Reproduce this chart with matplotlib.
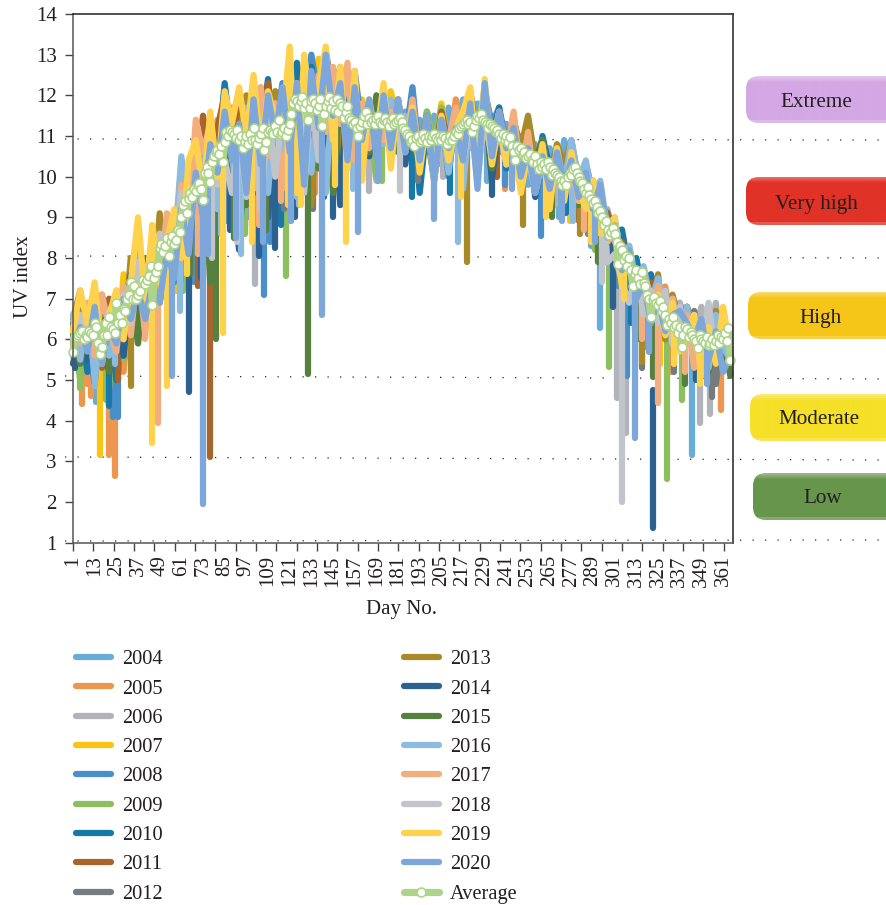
import numpy as np
import matplotlib
matplotlib.use("Agg")
import matplotlib.pyplot as plt
from matplotlib.colors import to_rgb
from matplotlib.patches import FancyBboxPatch

plt.rcParams['font.family'] = ['Liberation Serif', 'DejaVu Serif']
TEXT = '#231f20'

grid_days = list(range(1, 366, 4))

y2004 = [6.3,6.8,5.9,6.4,4.7,6.9,5.4,6.7,6.1,7.2,6.4,7.5,6.9,7.9,8.0,7.7,9.1,8.6,10.2,9.5,10.8,11.2,10.6,
         11.4,9.9,11.6,10.8,11.9,10.5,11.2,12.4,10.9,12.2,11.5,10.8,12.3,11.0,12.1,10.6,12.0,11.3,10.9,11.7,11.2,11.9,10.7,
         11.6,10.5,11.4,10.9,11.5,10.3,11.7,11.1,11.9,10.7,11.8,10.9,11.4,10.6,11.3,10.2,11.0,9.8,10.8,10.3,10.7,9.6,10.9,
         10.2,9.8,10.1,9.3,9.6,8.7,8.9,8.2,8.1,7.6,7.5,7.0,6.9,6.3,7.0,6.2,6.7,5.6,6.5,5.7,6.6,5.4,6.2]
y2005 = [5.9,6.6,4.9,5.6,6.5,4.6,6.8,5.2,7.1,6.0,7.6,6.5,8.2,7.1,8.5,7.9,9.4,8.8,10.6,9.7,11.4,10.2,11.7,
         10.3,11.5,9.8,12.1,10.6,11.3,12.0,10.4,12.3,11.1,12.5,10.7,12.1,11.6,12.4,10.9,11.8,10.9,11.6,10.6,11.9,11.2,11.4,
         10.8,11.5,10.6,11.3,10.7,11.6,10.4,11.9,11.0,12.0,10.5,11.9,11.2,11.5,10.4,11.3,10.7,10.9,9.9,10.7,10.1,10.3,9.8,
         10.5,9.6,10.0,9.1,9.4,8.5,8.8,8.4,7.6,7.9,7.1,7.4,6.6,7.3,6.1,6.9,6.3,6.6,5.5,6.4,5.6,6.5,5.3]
y2006 = [6.1,5.6,6.7,5.3,6.8,5.8,7.2,6.2,7.4,5.9,7.9,7.0,8.4,7.4,8.9,8.2,9.3,9.9,9.1,10.6,9.6,11.5,10.3,
         11.1,9.7,12.0,10.2,11.3,9.9,11.7,10.4,12.6,11.2,12.2,10.8,12.4,11.6,11.8,10.6,12.1,10.8,11.2,9.9,11.5,10.5,11.3,11.0,
         11.4,10.9,11.2,10.5,11.3,10.8,11.4,10.3,11.6,10.8,11.7,10.6,11.2,10.7,10.9,10.4,10.8,9.9,10.5,10.0,10.6,9.4,
         10.3,9.9,9.5,9.7,8.7,9.2,8.3,8.5,7.7,7.9,6.9,7.6,7.0,7.2,6.4,6.9,6.4,6.1,6.8,5.6,6.9,5.2,5.9]
y2007 = [6.6,6.9,5.5,7.3,6.0,6.6,5.2,7.6,6.2,6.9,7.9,7.2,8.3,7.7,8.0,9.2,8.5,10.0,9.4,10.9,10.0,11.6,11.2,
         10.6,11.9,10.3,12.2,11.0,12.1,10.7,12.6,11.4,12.7,10.9,12.9,11.5,12.3,11.1,12.4,10.7,11.9,11.0,11.7,10.9,12.1,11.3,
         10.9,11.6,10.6,11.5,10.4,11.8,10.7,11.5,11.1,12.0,11.0,12.2,11.0,11.6,10.5,11.3,10.2,10.7,10.0,10.6,9.8,10.5,10.0,
         10.4,9.3,10.2,9.4,9.7,8.6,8.8,8.1,8.3,7.4,7.4,7.0,7.2,6.4,6.8,6.0,6.3,6.6,5.6,6.3,5.4,6.1,5.6]
y2008 = [5.7,6.8,6.1,4.9,6.9,5.7,4.5,7.2,5.9,7.7,6.8,8.1,6.9,8.6,7.4,9.6,8.5,10.1,9.2,11.0,9.9,12.2,10.9,
         11.8,10.4,11.5,9.9,12.1,11.2,12.3,10.6,12.7,11.7,13.0,11.9,13.1,12.0,12.4,10.8,12.6,11.2,11.8,10.6,12.0,11.0,11.9,10.9,
         12.2,10.4,11.6,10.7,11.5,10.0,11.6,10.9,12.0,10.3,12.1,11.3,11.7,10.8,11.4,10.6,11.0,10.0,10.8,10.2,10.7,9.7,
         10.6,9.7,10.3,9.6,9.3,8.8,8.5,7.9,8.2,7.2,7.6,6.9,7.3,6.3,6.9,5.9,6.6,5.7,6.4,6.0,5.5,6.3,5.4]
y2009 = [6.2,5.0,6.5,5.7,6.8,4.8,6.4,5.5,7.0,6.3,7.5,6.7,7.8,7.3,8.7,8.2,9.4,8.9,10.4,9.6,10.7,11.3,9.9,
         11.3,9.6,11.9,10.6,11.4,9.8,12.1,10.9,12.3,11.1,12.0,10.7,12.4,11.8,11.6,10.3,11.9,10.9,11.3,10.0,11.7,11.0,11.6,10.8,
         11.4,10.4,11.6,10.9,11.7,10.6,11.5,10.4,12.0,10.8,12.2,11.0,11.5,10.4,11.4,10.2,10.9,10.3,10.8,9.7,10.4,10.1,
         10.3,9.6,10.0,9.1,9.7,8.4,8.7,7.8,8.1,7.5,7.3,6.8,7.2,6.7,6.6,6.2,6.6,5.8,6.2,5.5,6.4,5.9,5.7]
y2010 = [5.6,6.4,5.2,6.7,5.9,6.9,5.0,7.0,6.0,7.6,6.9,7.9,7.1,8.9,8.0,9.7,8.7,10.6,9.4,11.2,10.4,12.3,10.8,
         11.4,10.5,12.1,11.0,12.4,10.3,12.0,11.2,12.8,11.6,12.7,10.9,12.9,11.5,12.5,11.0,12.2,11.1,11.8,10.7,12.0,11.3,11.9,10.6,
         11.8,9.6,11.3,10.4,11.5,10.1,11.6,10.5,11.9,10.3,12.1,10.9,11.7,10.2,11.4,10.5,10.8,9.9,11.0,10.2,10.5,9.7,
         10.8,9.8,10.2,9.4,9.3,9.1,8.6,8.7,7.7,8.0,7.0,7.6,6.8,7.1,6.3,6.6,6.0,6.5,5.6,6.2,5.8,5.9,5.6]
y2011 = [6.0,6.7,5.6,6.4,5.3,7.0,5.9,6.9,6.4,7.4,7.1,8.1,7.0,8.3,7.8,9.0,8.9,9.9,11.5,10.4,11.2,12.0,10.7,
         11.7,10.1,12.2,10.8,12.3,10.5,11.5,12.2,10.9,12.0,11.3,12.4,11.0,12.6,11.2,12.4,10.6,11.7,10.8,11.6,10.9,11.2,11.7,10.8,
         11.5,10.7,11.2,10.3,11.6,10.8,11.3,10.6,11.9,11.1,11.8,10.7,11.6,10.7,11.5,10.1,11.2,10.2,10.6,10.0,10.4,9.5,
         10.5,9.9,9.6,9.9,9.0,9.1,8.4,8.4,7.8,7.7,7.3,7.4,6.5,7.2,6.4,6.4,6.8,5.9,6.3,5.7,6.3,5.4,6.0]
y2012 = [6.4,5.8,6.7,5.9,7.1,6.2,6.5,5.6,7.7,6.6,8.0,7.2,8.5,7.9,8.8,8.4,9.2,10.0,9.0,10.7,9.8,10.9,10.1,
         11.2,9.8,11.7,10.0,11.9,10.6,11.6,9.3,12.1,10.4,11.7,10.9,9.8,12.3,11.5,11.9,10.5,11.6,10.8,11.9,11.1,11.5,10.7,11.2,
         11.1,10.5,11.3,10.3,11.4,10.9,11.3,10.6,11.7,10.5,11.4,10.9,11.2,10.6,11.0,10.3,10.7,9.9,10.4,9.8,10.2,9.6,
         10.1,9.4,9.8,9.0,9.2,8.6,8.2,7.9,7.9,7.2,7.6,6.9,7.3,6.5,6.9,6.4,6.2,6.7,5.6,6.5,4.9,6.2,5.7]
y2013 = [6.5,7.2,5.7,6.9,5.4,6.4,6.9,5.9,8.0,6.4,7.7,6.8,9.1,7.5,9.0,8.4,9.6,10.6,9.7,10.9,9.9,11.6,10.6,
         11.0,12.0,10.3,11.5,10.5,12.1,11.0,12.4,10.8,11.8,9.3,12.2,11.4,12.0,12.7,11.0,11.6,10.4,11.8,10.9,11.4,10.8,11.5,10.6,
         11.7,10.7,11.5,10.2,11.1,10.5,11.4,10.9,12.1,11.0,11.8,9.9,11.6,10.6,11.4,10.7,11.5,10.4,10.9,9.8,10.8,10.3,
         10.9,9.9,10.2,9.3,9.6,8.8,8.9,7.9,8.1,7.0,7.4,6.6,7.6,6.0,7.1,6.4,6.8,6.3,6.5,5.9,6.7,5.6,6.1]
y2014 = [5.4,6.2,5.5,6.9,6.1,5.2,6.6,5.6,7.6,6.6,7.2,8.2,7.0,8.6,7.9,9.2,8.0,10.2,8.8,11.1,10.0,11.8,9.7,
         8.2,11.4,9.6,11.6,9.0,11.4,10.4,12.2,9.9,11.9,10.9,12.3,10.5,11.9,9.3,12.2,10.2,11.6,10.5,11.8,10.9,11.3,11.6,10.3,
         11.5,10.2,11.3,10.6,11.0,10.4,11.3,10.0,11.6,10.7,11.9,9.9,11.4,10.5,11.2,9.8,10.8,9.5,10.6,9.7,10.4,9.4,
         10.4,9.4,10.1,9.3,9.5,8.7,8.5,7.7,8.0,7.0,7.6,6.4,7.2,6.6,6.7,6.1,6.6,5.8,6.0,5.4,6.4,5.5,5.2]
y2015 = [6.1,5.4,6.3,5.8,6.9,5.2,7.1,6.6,7.4,5.9,8.0,7.0,8.4,7.2,9.0,8.0,9.4,8.8,10.7,7.4,10.4,11.6,10.2,
         10.9,9.3,11.2,10.1,12.0,10.7,11.4,9.8,12.1,11.3,11.6,10.2,12.3,9.6,12.0,10.8,11.9,11.0,10.6,12.0,11.2,11.6,10.6,11.3,
         10.9,10.3,11.1,9.9,11.4,10.7,11.2,10.5,11.4,10.2,11.6,10.2,11.3,10.5,11.0,10.0,10.8,10.4,10.9,9.6,10.2,9.9,
         10.4,9.3,9.9,9.0,9.6,8.4,8.8,7.6,7.6,7.3,6.9,7.0,6.4,6.9,6.2,6.1,6.8,5.5,6.4,5.2,5.9,6.1,5.1]
y2016 = [6.6,5.5,6.9,5.0,6.3,5.6,7.0,6.1,7.3,8.5,7.2,8.5,7.6,9.0,8.1,10.5,9.0,11.0,10.1,10.8,9.2,11.2,10.6,
         8.9,11.7,10.0,12.0,9.6,11.8,10.2,11.7,9.5,12.1,10.1,11.9,9.6,12.2,11.3,11.6,10.7,11.7,11.0,11.5,10.8,11.9,11.1,11.5,
         11.3,10.6,11.0,10.5,11.3,10.1,11.5,9.7,11.6,10.2,12.0,10.6,11.5,10.8,11.1,9.9,10.6,10.1,10.4,9.5,10.7,9.8,
         10.9,9.9,10.4,9.4,9.9,8.7,9.0,7.8,8.3,7.4,7.8,6.9,7.5,6.6,7.0,6.0,6.8,5.6,6.3,5.3,6.6,5.8,5.5]
y2017 = [6.3,5.9,6.9,5.6,7.1,6.3,5.7,7.3,6.1,7.8,6.1,8.3,7.2,9.1,7.7,9.8,8.8,11.4,10.6,11.3,10.0,11.7,11.0,
         10.2,11.4,9.7,12.2,10.5,11.8,9.7,11.5,9.9,12.4,11.2,12.5,11.1,12.7,11.3,12.8,10.4,11.8,10.7,11.4,10.9,11.6,11.0,10.7,
         11.9,10.4,11.4,10.1,11.2,10.9,11.7,10.5,11.9,10.4,12.1,10.8,11.6,10.5,11.6,10.0,11.1,9.7,10.7,9.9,10.6,9.5,
         10.3,9.4,10.0,9.2,9.3,8.4,8.6,7.6,7.9,7.1,7.6,6.5,7.3,6.3,7.0,5.9,6.6,5.3,6.5,5.5,6.0,6.4,5.7]
y2018 = [6.0,6.6,5.8,7.0,5.5,6.7,6.2,7.1,6.4,7.9,7.1,7.6,8.6,7.3,8.3,9.6,8.7,10.0,9.3,10.3,9.8,10.4,9.6,
         11.0,9.5,11.3,9.2,11.6,10.0,11.7,10.5,12.3,9.6,12.1,10.4,12.8,11.4,12.4,10.9,11.3,10.2,11.7,11.2,11.5,10.9,11.2,10.7,
         11.1,10.4,11.4,10.1,11.1,10.7,11.2,10.4,11.4,9.9,11.5,10.4,11.2,10.3,10.9,10.2,10.5,9.6,10.4,9.9,10.2,9.6,
         10.2,9.8,9.7,9.0,9.4,7.9,8.1,7.4,6.9,7.7,6.6,7.2,6.4,7.2,5.9,6.8,6.0,6.6,5.7,6.9,5.5,6.3,5.7]
y2019 = [6.2,7.2,6.4,7.4,5.4,6.6,7.2,6.0,7.4,9.0,7.0,8.8,7.4,8.4,9.2,8.0,10.4,10.9,9.6,11.6,10.0,12.1,11.3,
         12.2,11.0,12.5,10.6,12.1,11.4,11.3,13.2,9.6,13.0,11.6,12.2,13.2,10.9,12.7,10.2,12.6,9.9,11.9,10.9,12.3,10.2,11.9,10.6,
         11.7,10.1,11.4,9.9,11.5,10.4,11.2,11.6,12.2,10.1,12.4,10.3,11.4,10.3,10.9,9.6,10.6,9.9,10.8,9.2,10.7,9.4,
         10.6,9.7,9.2,9.9,8.6,8.7,9.0,7.3,8.2,7.0,7.4,6.6,7.1,6.1,6.9,5.7,6.1,6.6,5.1,6.3,5.4,6.8,5.8]
y2020 = [5.8,6.3,5.7,6.8,5.4,6.3,5.9,7.0,6.5,7.2,6.5,7.4,6.9,8.2,7.5,9.3,8.1,10.1,9.0,10.8,10.1,11.6,10.4,
         11.3,9.6,11.9,10.3,12.0,11.0,12.2,10.6,12.3,9.8,12.6,11.2,13.0,11.5,12.3,10.4,12.2,10.9,11.9,10.5,12.0,10.7,11.9,10.6,
         11.6,10.4,11.5,9.9,11.4,10.7,11.2,10.4,11.8,9.7,12.3,10.5,11.6,10.7,11.2,10.0,10.7,9.6,10.5,9.7,10.6,9.8,
         10.4,9.5,10.1,9.2,9.8,8.5,8.8,7.7,8.2,7.0,7.4,6.4,7.0,6.2,6.6,6.7,6.4,6.0,6.5,5.5,6.2,5.2,5.6]

# (day, lowest value of the drop)
dips_2004 = [(14, 4.45), (62, 7.6), (98, 9.0), (120, 9.4), (150, 10.2), (230, 9.9), (270, 9.0), (288, 8.3), (293, 6.27), (318, 5.8), (344, 3.15)]
dips_2005 = [(6, 4.4), (11, 4.6), (21, 3.15), (24, 2.65), (66, 8.2), (92, 9.2), (112, 9.3), (135, 9.6), (240, 9.7), (280, 9.0), (300, 7.5), (332, 5.2), (360, 4.26)]
dips_2006 = [(70, 8.4), (90, 8.8), (102, 7.35), (128, 9.8), (165, 9.65), (206, 10.0), (268, 9.3), (296, 7.9), (302, 4.55), (307, 3.7), (348, 3.95), (354, 4.16)]
dips_2007 = [(16, 3.15), (58, 7.2), (88, 9.4), (122, 8.9), (170, 10.3), (276, 8.9), (326, 5.4)]
dips_2008 = [(23, 4.1), (26, 4.1), (68, 7.4), (86, 8.9), (107, 7.1), (110, 8.4), (240, 9.8), (260, 8.55), (286, 8.6), (303, 7.3), (308, 5.1)]
dips_2009 = [(5, 4.8), (19, 4.5), (62, 7.2), (96, 8.6), (119, 7.55), (132, 10.0), (172, 9.9), (244, 9.9), (290, 8.2), (298, 5.32), (330, 2.57), (338, 4.5)]
dips_2010 = [(21, 4.35), (60, 7.4), (116, 8.8), (140, 9.5), (189, 9.5), (210, 9.6), (274, 9.1), (310, 6.4)]
dips_2011 = [(26, 5.0), (70, 7.3), (77, 3.1), (100, 8.8), (146, 10.0), (236, 10.0), (281, 8.9)]
dips_2012 = [(64, 7.8), (118, 9.2), (134, 9.2), (192, 9.9), (272, 9.4), (316, 5.3), (334, 5.2), (355, 4.58)]
dips_2013 = [(33, 4.85), (74, 7.9), (126, 9.4), (148, 10.1), (219, 7.9), (250, 8.8), (282, 8.6), (304, 7.4), (316, 5.44)]
dips_2014 = [(2, 5.3), (65, 4.7), (72, 7.5), (88, 8.7), (104, 8.05), (113, 8.25), (124, 9.0), (145, 9.0), (233, 9.55), (300, 6.8), (346, 5.0)]
dips_2015 = [(66, 7.6), (80, 6.0), (90, 8.5), (108, 8.7), (131, 5.15), (266, 9.0), (292, 7.9), (314, 6.0), (322, 5.08), (340, 4.9)]
dips_2016 = [(13, 4.85), (24, 5.4), (60, 6.7), (83, 8.6), (94, 8.1), (126, 9.3), (156, 9.7), (214, 8.4), (278, 8.9)]
dips_2017 = [(41, 6.0), (48, 3.95), (70, 8.1), (104, 8.8), (116, 9.4), (284, 8.7), (316, 6.0), (325, 4.43), (340, 5.2)]
dips_2018 = [(78, 8.0), (92, 8.4), (128, 9.6), (182, 9.65), (294, 7.4), (305, 2.0), (312, 6.2)]
dips_2019 = [(45, 3.45), (53, 4.85), (64, 7.6), (84, 6.15), (100, 8.4), (120, 9.3), (127, 9.3), (146, 9.8), (152, 8.4), (216, 9.5), (263, 9.0), (288, 8.4), (306, 7.0), (334, 5.4), (348, 4.9)]
dips_2020 = [(56, 5.1), (73, 1.95), (76, 8.1), (91, 8.5), (106, 8.4), (122, 8.9), (139, 6.6), (159, 8.65), (170, 9.9), (201, 8.95), (244, 9.7), (272, 8.9), (290, 8.4), (312, 3.57), (320, 5.7), (352, 4.9)]

# 2014 has a short piece standing alone near day 322
alone_day_2014 = [322, 322]
alone_val_2014 = [4.75, 1.35]

avg_values = [5.68,6.05,6.05,6.1,6.15,6.2,6.0,6.1,6.05,6.2,6.15,6.1,6.4,6.3,5.9,5.65,5.8,6.1,6.4,6.1,
    6.55,6.3,6.25,6.15,6.9,6.4,6.6,6.4,6.75,6.7,7.0,7.1,7.4,7.0,7.3,7.0,7.1,7.2,7.4,7.45,
    7.35,7.45,7.55,7.8,6.85,7.5,7.65,7.8,8.25,8.35,8.15,8.3,8.5,8.05,8.4,8.55,8.35,8.45,8.7,8.65,
    9.0,9.3,9.4,9.1,9.45,9.6,9.5,9.7,9.65,9.8,9.85,9.7,9.42,10.1,10.25,10.1,9.87,10.35,10.5,10.6,
    10.65,10.55,10.75,10.35,10.85,11.1,11.0,11.15,11.1,11.05,10.95,11.15,10.9,11.0,10.7,10.85,11.0,10.8,11.05,10.9,
    11.2,10.9,10.8,10.95,11.05,11.2,10.65,10.85,11.1,11.15,11.1,11.05,11.25,11.1,11.4,11.05,11.1,11.2,11.0,11.15,
    11.3,11.55,11.8,11.9,11.85,11.75,11.85,11.95,11.7,11.8,11.4,11.7,11.85,11.9,11.8,11.65,11.75,11.9,11.25,11.55,
    11.75,11.85,11.95,11.7,11.85,11.65,11.9,11.6,11.8,11.75,11.45,11.6,11.75,11.45,11.4,11.3,11.35,11.2,11.0,11.25,
    11.35,11.5,11.6,11.3,11.45,11.35,11.4,11.3,11.45,11.5,11.35,11.3,11.4,11.45,11.35,11.25,11.4,11.45,11.3,11.35,
    11.4,11.45,11.35,11.2,11.15,11.05,11.0,10.85,10.9,10.75,10.95,11.0,10.85,10.9,11.05,10.95,10.85,11.0,10.9,11.0,
    11.05,10.95,10.9,11.0,10.9,11.0,10.95,10.8,10.9,11.0,10.9,11.0,11.1,11.05,11.2,11.25,11.3,11.35,11.4,11.3,
    11.35,11.1,11.25,11.4,11.5,11.45,11.55,11.4,11.35,11.3,11.2,11.3,11.25,11.2,11.1,11.15,11.05,10.95,11.05,10.9,
    11.0,10.85,10.97,10.75,10.6,10.4,10.75,10.65,10.7,10.55,10.6,10.45,10.5,10.55,10.4,10.35,10.5,10.3,10.2,10.35,
    10.25,10.3,10.2,10.35,10.25,10.05,10.2,10.1,10.05,10.0,9.9,9.8,9.9,9.8,10.0,10.1,10.05,10.2,10.25,10.1,
    10.0,9.9,9.85,9.7,9.6,9.75,9.55,9.45,9.35,9.4,9.25,9.1,9.15,9.0,8.8,8.9,8.7,8.56,8.65,8.75,
    8.6,8.4,7.85,8.3,8.2,7.95,8.05,7.8,8.0,7.7,7.3,7.6,7.7,7.5,7.35,7.65,7.38,7.3,7.1,7.0,
    6.55,7.0,7.05,6.9,6.85,6.95,6.7,6.8,6.6,6.35,6.5,6.4,6.55,6.3,6.35,6.15,6.3,5.8,6.1,6.3,
    6.25,6.05,6.17,6.1,6.0,5.95,5.78,6.1,6.0,5.95,5.9,6.05,5.85,5.9,6.0,5.85,5.95,6.1,5.9,6.05,
    6.0,6.15,5.95,6.27,5.5]

years = [2004, 2005, 2006, 2007, 2008, 2009, 2010, 2011, 2012, 2013, 2014, 2015, 2016, 2017, 2018, 2019, 2020]
year_values = [y2004, y2005, y2006, y2007, y2008, y2009, y2010, y2011, y2012, y2013, y2014, y2015, y2016, y2017, y2018, y2019, y2020]
year_dips = [dips_2004, dips_2005, dips_2006, dips_2007, dips_2008, dips_2009, dips_2010, dips_2011, dips_2012,
             dips_2013, dips_2014, dips_2015, dips_2016, dips_2017, dips_2018, dips_2019, dips_2020]
year_colors = ['#68acd9', '#ed9650', '#b1b3ba', '#f9c412', '#4a8fc9', '#8cbf5e', '#1878a8', '#a9642b', '#767b80',
               '#a88a28', '#2c6291', '#56803f', '#8cbbe1', '#f3ae7e', '#c2c4cc', '#ffd24e', '#7da7da']
avg_color = '#aed48a'

level_names = ['Extreme', 'Very high', 'High', 'Moderate', 'Low']
level_colors = ['#d3a8e4', '#e03226', '#f5c518', '#f6e028', '#67954c']
level_boxes = [(746, 76, 123), (746, 177, 225), (748, 292, 339), (750, 394, 441), (753, 473, 520)]
level_text_x = [816, 816, 821, 819, 823]
level_text_y = [102.5, 204.5, 318.5, 419.5, 498.5]
dotted_left = [139, 256, 376, 457, 541]
dotted_right = [140, 258, 379, 460, 540]

W, H = 886, 905
fig = plt.figure(figsize=(W / 100, H / 100), dpi=100)

# pixel layer behind the chart for dotted bands and the level buttons
back = fig.add_axes([0, 0, 1, 1], zorder=0)
for yl, yr in zip(dotted_left, dotted_right):
    back.plot([65, 886], [yl, yr], color='#222222', lw=0.9, dashes=(1.0, 9.0))
for name, col, (x0, y0, y1), tx, ty in zip(level_names, level_colors, level_boxes, level_text_x, level_text_y):
    n = y1 - y0
    base = np.array(to_rgb(col))
    shade = np.ones((n, 1, 3)) * base
    for i in range(6):
        shade[i] = base + (1 - base) * 0.35 * (1 - i / 6)
    shade[-3:] = base + (1 - base) * 0.2
    box = FancyBboxPatch((x0 + 12, y0 + 12), 160, n - 24, boxstyle='round,pad=12,rounding_size=13',
                         fc='none', ec='none', transform=back.transData)
    back.add_patch(box)
    im = back.imshow(shade, extent=(x0, 900, y1, y0), aspect='auto', zorder=2)
    im.set_clip_path(box)
    back.text(tx, ty, name, ha='center', va='center', fontsize=15.2, color=TEXT, zorder=3)
back.set_xlim(0, W)
back.set_ylim(H, 0)
back.axis('off')

ax = fig.add_axes([73 / W, 1 - 542.7 / H, 660 / W, 528.7 / H], zorder=1)
ax.patch.set_alpha(0)

for yr, vals, dips, col in zip(years, year_values, year_dips, year_colors):
    ax.plot(grid_days, vals, color=col, lw=4.5, solid_capstyle='round', solid_joinstyle='round',
            clip_on=False, label=str(yr))
    for d, low in dips:
        ax.plot([d, d], [np.interp(d, grid_days, vals), low], color=col, lw=4.5,
                solid_capstyle='round', clip_on=False)
    if yr == 2014:
        ax.plot(alone_day_2014, alone_val_2014, color=col, lw=4.5, solid_capstyle='round', clip_on=False)

ax.plot(range(1, 366), avg_values, color=avg_color, lw=5.2, solid_capstyle='round', marker='o', ms=6.4,
        mfc='white', mec=avg_color, mew=1.2, clip_on=False, label='Average')

ax.set_xlim(1, 366.5)
ax.set_ylim(1, 14)
ax.set_yticks(range(1, 15))

# tick marks and labels do not line up in the original, so labels sit on minor ticks
ax.xaxis.remove_overlapping_locs = False
ax.set_xticks(np.arange(1, 366.6, 11.26))
ax.set_xticklabels([])
ax.set_xticks(range(1, 362, 12), minor=True)
ax.set_xticklabels([str(d) for d in range(1, 362, 12)], minor=True, rotation=90)
ax.tick_params(axis='x', which='minor', length=0, pad=9, labelsize=15, labelcolor=TEXT)
ax.tick_params(axis='x', which='major', length=5.8, width=1.0, color='#444444')
ax.tick_params(axis='y', length=5.8, width=1.0, color='#444444', pad=6, labelsize=15, labelcolor=TEXT)
for side, col in zip(['left', 'bottom', 'top', 'right'], ['#555555', '#555555', '#222222', '#222222']):
    ax.spines[side].set_color(col)
    ax.spines[side].set_linewidth(1.1)

fig.text(402 / W, 1 - 609.5 / H, 'Day No.', ha='center', va='center', fontsize=15, color=TEXT)
fig.text(23 / W, 1 - 277 / H, 'UV index', ha='center', va='center', rotation=90, fontsize=15.2, color=TEXT)

ax.legend(ncols=2, loc='upper left', bbox_to_anchor=(76 / W, 1 - 650 / H), bbox_transform=fig.transFigure,
          frameon=False, fontsize=14.7, labelcolor=TEXT, handlelength=1.72, handletextpad=0.54,
          columnspacing=11.8, labelspacing=0.49, borderpad=0, borderaxespad=0)

fig.savefig('out.png', dpi=100)
